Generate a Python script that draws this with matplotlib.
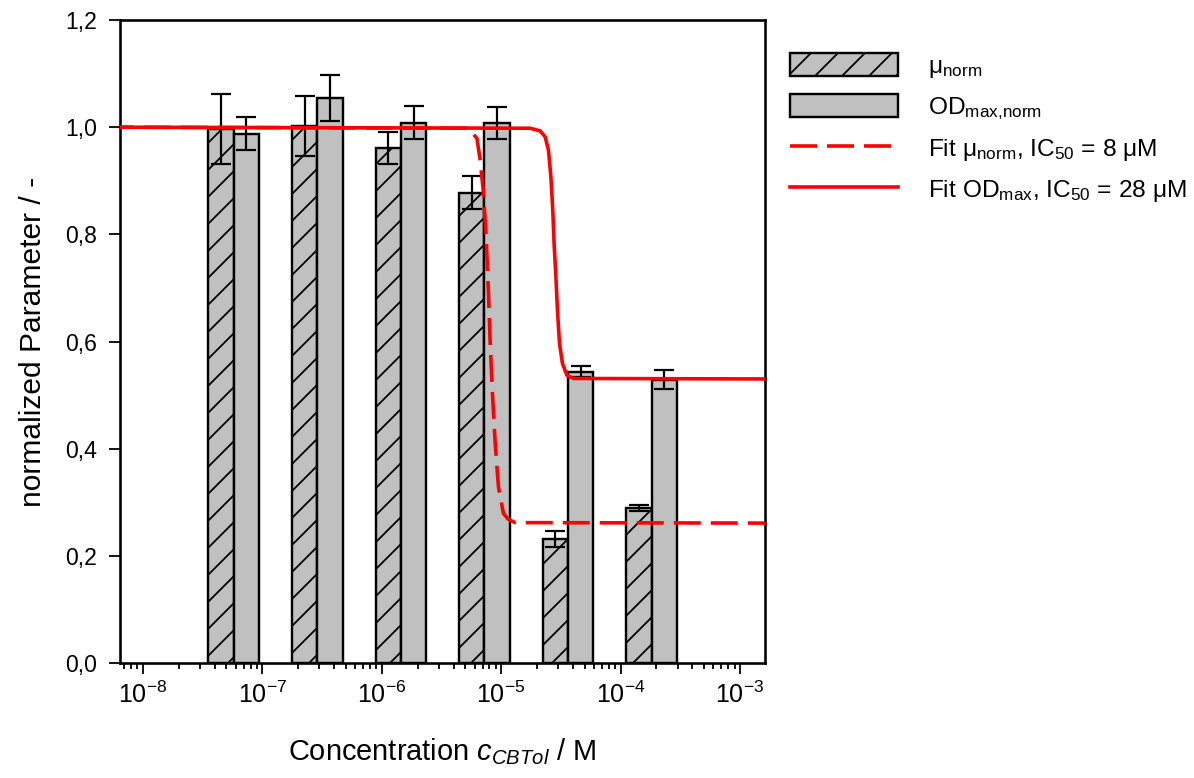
import numpy as np
import matplotlib
matplotlib.use('Agg')
import matplotlib.pyplot as plt
from matplotlib.ticker import FuncFormatter

# hatch spacing is tied to dpi, so render at 162 dpi and give sizes in pixels
DPI = 162
PX = 72.0 / DPI

plt.rcParams['font.family'] = ['Liberation Sans', 'DejaVu Sans']
plt.rcParams['mathtext.fontset'] = 'custom'
plt.rcParams['mathtext.rm'] = 'Liberation Sans'
plt.rcParams['mathtext.it'] = 'Liberation Sans:italic'
plt.rcParams['axes.unicode_minus'] = False
plt.rcParams['hatch.linewidth'] = 1.8 * PX
plt.rcParams['lines.scale_dashes'] = False

# concentration of each bar pair (M), measured values and errors
conc = [5.77e-8, 2.89e-7, 1.45e-6, 7.26e-6, 3.64e-5, 1.82e-4]
mu_norm = [0.997, 1.002, 0.961, 0.878, 0.232, 0.289]
mu_err = [0.065, 0.056, 0.030, 0.031, 0.015, 0.005]
od_norm = [0.988, 1.054, 1.008, 1.007, 0.544, 0.529]
od_err = [0.031, 0.043, 0.031, 0.030, 0.011, 0.018]

# fitted curves (log10 concentration, value)
fit_mu_logc = [-8.3, -5.273, -5.202, -5.175, -5.147, -5.125, -5.105, -5.091,
               -5.072, -5.049, -5.022, -4.980, -4.938, -4.882, -2.6]
fit_mu = [1.0, 0.998, 0.979, 0.939, 0.877, 0.796, 0.690, 0.597,
          0.503, 0.410, 0.329, 0.279, 0.268, 0.262, 0.261]
fit_od_logc = [-8.3, -4.757, -4.673, -4.631, -4.603, -4.583, -4.567, -4.556,
               -4.541, -4.528, -4.511, -4.486, -4.449, -4.394, -2.6]
fit_od = [1.0, 0.998, 0.993, 0.982, 0.957, 0.908, 0.845, 0.783,
          0.721, 0.659, 0.597, 0.559, 0.537, 0.531, 0.530]

labels = ['μ$_\\mathrm{norm}$', 'OD$_\\mathrm{max{,}norm}$',
          'Fit μ$_\\mathrm{norm}$, IC$_{50}$ = 8 μM',
          'Fit OD$_\\mathrm{max}$, IC$_{50}$ = 28 μM']

gray = '#c0c0c0'
bar_w = 0.212  # bar width in decades

fig = plt.figure(figsize=(1194 / DPI, 778 / DPI), dpi=DPI)
ax = fig.add_axes([120 / 1194, 115 / 778, 645 / 1194, 643 / 778])

c = np.array(conc)
left_mu = c * 10 ** -bar_w
right_od = c * 10 ** bar_w
b1 = ax.bar(left_mu, mu_norm, width=c - left_mu, align='edge', color=gray,
            edgecolor='black', linewidth=2.4 * PX, hatch='//', zorder=2)
b2 = ax.bar(c, od_norm, width=right_od - c, align='edge', color=gray,
            edgecolor='black', linewidth=2.4 * PX, zorder=2)
ax.errorbar(c * 10 ** (-bar_w / 2), mu_norm, yerr=mu_err, fmt='none', ecolor='black',
            elinewidth=2.2 * PX, capsize=10 * PX, capthick=2.2 * PX, zorder=3)
ax.errorbar(c * 10 ** (bar_w / 2), od_norm, yerr=od_err, fmt='none', ecolor='black',
            elinewidth=2.2 * PX, capsize=10 * PX, capthick=2.2 * PX, zorder=3)

l1, = ax.plot(10 ** np.array(fit_mu_logc), fit_mu, color='red', lw=3.6 * PX,
              dashes=(27 * PX, 10 * PX), zorder=4)
l2, = ax.plot(10 ** np.array(fit_od_logc), fit_od, color='red', lw=3.6 * PX,
              solid_joinstyle='round', zorder=5)

ax.set_xscale('log')
ax.set_xlim(6.46e-9, 1.62e-3)
ax.set_ylim(0, 1.2)
ax.set_yticks(np.arange(0, 1.21, 0.2))
ax.yaxis.set_major_formatter(FuncFormatter(lambda v, p: f'{v:.1f}'.replace('.', ',')))

for s in ax.spines.values():
    s.set_linewidth(2.6 * PX)
ax.tick_params(which='major', direction='out', length=11 * PX, width=1.8 * PX,
               labelsize=23 * PX, top=False, right=False)
ax.tick_params(which='minor', direction='out', length=6 * PX, width=1.8 * PX,
               top=False, right=False)
ax.tick_params(axis='y', pad=12 * PX)
ax.tick_params(axis='x', pad=8 * PX, labelsize=25 * PX)

ax.set_xlabel('Concentration $c_{CBTol}$ / M', fontsize=29 * PX, labelpad=28 * PX)
ax.set_ylabel('normalized Parameter / -', fontsize=30 * PX, labelpad=18 * PX)

ax.legend([b1, b2, l1, l2], labels, loc='upper left',
          bbox_to_anchor=(790 / 1194, 1 - 53 / 778), bbox_transform=fig.transFigure,
          frameon=False, borderpad=0, borderaxespad=0, fontsize=24.5 * PX,
          handlelength=108 / 24.5, handleheight=26 / 24.5, handletextpad=30 / 24.5,
          labelspacing=0.58)

fig.savefig('out.png', dpi=DPI)
